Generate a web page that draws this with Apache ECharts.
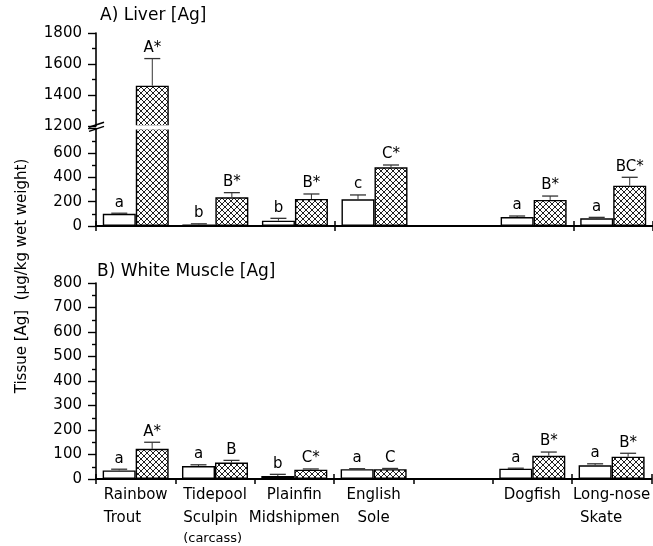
<!DOCTYPE html>
<html>
<head>
<meta charset="utf-8">
<script src="https://cdn.jsdelivr.net/npm/echarts@6/dist/echarts.min.js"></script>
<style>
html,body{margin:0;padding:0;background:#fff;}
#chart{width:653px;height:546px;}
</style>
</head>
<body>
<div id="chart"></div>
<script>
// ---------------- data ----------------
const categories = ['Rainbow Trout', 'Tidepool Sculpin (carcass)', 'Plainfin Midshipmen', 'English Sole', '', 'Dogfish', 'Long-nose Skate'];
const tickLines = [['Rainbow', 'Trout'], ['Tidepool', 'Sculpin', '(carcass)'], ['Plainfin', 'Midshipmen'], ['English', 'Sole'], [], ['Dogfish'], ['Long-nose', 'Skate']];

// A) Liver [Ag]  (white = control, hatched = exposed)
const liverWhite   = [100, 12, 44, 219, null, 74, 63];
const liverWhiteSE = [5, 6, 19, 36, null, 8, 8];
const liverHatch   = [1460, 236, 222, 482, null, 214, 331];
const liverHatchSE = [175, 38, 41, 19, null, 32, 69];
const liverWhiteLbl = ['a', 'b', 'b', 'c', '', 'a', 'a'];
const liverHatchLbl = ['A*', 'B*', 'B*', 'C*', '', 'B*', 'BC*'];

// B) White Muscle [Ag]
const muscleWhite   = [35, 53, 12, 40, null, 42, 56];
const muscleWhiteSE = [5, 5, 7, 2, null, 2, 6];
const muscleHatch   = [123, 67, 38, 40, null, 95, 91];
const muscleHatchSE = [27, 9, 3, 3, null, 15, 14];
const muscleWhiteLbl = ['a', 'a', 'b', 'a', '', 'a', 'a'];
const muscleHatchLbl = ['A*', 'B', 'C*', 'C', '', 'B*', 'B*'];

const liverUpperTicks = [1200, 1400, 1600, 1800];
const liverLowerTicks = [0, 200, 400, 600];
const muscleTicks = [0, 100, 200, 300, 400, 500, 600, 700, 800];

// ---------------- styles ----------------
const FONT = 'DejaVu Sans';
const BAR_W = 33;
// line alignment of the category tick labels (style only)
const lineStyleKeys = [['c', 'l'], ['c', 'l', 's'], ['c', 'c'], ['c', 'c'], [], ['c'], ['c', 'l2']];

function makeHatch() {
  const s = 6;
  const cv = document.createElement('canvas');
  cv.width = s; cv.height = s;
  const ctx = cv.getContext('2d');
  ctx.fillStyle = '#fff';
  ctx.fillRect(0, 0, s, s);
  ctx.strokeStyle = '#222';
  ctx.lineWidth = 1;
  ctx.beginPath();
  for (const o of [-s, 0, s]) {
    ctx.moveTo(o, 0); ctx.lineTo(o + s, s);
    ctx.moveTo(o, s); ctx.lineTo(o + s, 0);
  }
  ctx.stroke();
  return cv;
}
const hatch = { image: makeHatch(), repeat: 'repeat' };

const whiteStyle = { color: '#fff', borderColor: '#000', borderWidth: 1.4 };
const hatchStyle = { color: hatch, borderColor: '#000', borderWidth: 1.4 };

function yAxisBase(gridIndex, min, max, interval, ticks) {
  return {
    type: 'value', gridIndex, min, max, interval,
    axisLine: { show: true, lineStyle: { color: '#000', width: 1.6 } },
    axisTick: { show: true, length: 8, lineStyle: { color: '#000', width: 1.4 } },
    minorTick: { show: true, splitNumber: 2, length: 4, lineStyle: { color: '#000', width: 1.4 } },
    splitLine: { show: false },
    axisLabel: {
      margin: 14, color: '#000', fontFamily: FONT, fontSize: 15,
      formatter: v => (ticks.indexOf(v) >= 0 ? String(v) : '')
    }
  };
}

function xAxisBase(gridIndex, opts) {
  return Object.assign({
    type: 'category', gridIndex, data: categories, position: 'bottom',
    axisLine: { show: true, lineStyle: { color: '#000', width: 2 } },
    axisTick: { show: true, length: 5, lineStyle: { color: '#000', width: 1.5 } },
    axisLabel: { show: false },
    splitLine: { show: false }
  }, opts);
}

function tickFormatter(value, idx) {
  const lines = tickLines[idx] || [];
  return lines.map((t, i) => '{' + lineStyleKeys[idx][i] + '|' + t + '}').join('\n');
}

function errItems(means, ses, side, keep) {
  const out = [];
  means.forEach((m, i) => {
    if (m == null) return;
    const top = m + ses[i];
    if (!keep(m, top)) return;
    out.push([i, m, top, side]);
  });
  return out;
}

function errSeries(xi, yi, whiteM, whiteSE, whiteL, hatchM, hatchSE, hatchL, keep) {
  const items = errItems(whiteM, whiteSE, 0, keep).concat(errItems(hatchM, hatchSE, 1, keep));
  return {
    type: 'custom', xAxisIndex: xi, yAxisIndex: yi, z: 5, silent: true,
    data: items,
    renderItem: function (params, api) {
      const cat = api.value(0), mean = api.value(1), top = api.value(2), side = api.value(3);
      const c = api.coord([cat, mean]);
      const t = api.coord([cat, top]);
      const x = c[0] + (side ? 1 : -1) * BAR_W / 2;
      const lbl = side ? hatchL[cat] : whiteL[cat];
      return {
        type: 'group',
        children: [
          { type: 'line', shape: { x1: x, y1: c[1], x2: x, y2: t[1] }, style: { stroke: '#333', lineWidth: 1 } },
          { type: 'line', shape: { x1: x - 8, y1: t[1], x2: x + 8, y2: t[1] }, style: { stroke: '#333', lineWidth: 1.3 } },
          { type: 'text', x: x, y: t[1] - 3, style: { text: lbl, textAlign: 'center', textVerticalAlign: 'bottom', verticalAlign: 'bottom', font: '15px "' + FONT + '"', fill: '#000' } }
        ]
      };
    }
  };
}

const G_LEFT = 96, G_W = 560;
const grids = [
  { left: G_LEFT, top: 33, width: G_W, height: 93 },       // A upper (1200-1800)
  { left: G_LEFT, top: 128.6, width: G_W, height: 97.4 },  // A lower (0-800)
  { left: G_LEFT, top: 283, width: G_W, height: 196 }      // B
];

const richStyles = {
  c: { fontFamily: FONT, fontSize: 15, color: '#000', lineHeight: 23, align: 'center' },
  l: { fontFamily: FONT, fontSize: 15, color: '#000', lineHeight: 23, align: 'left' },
  l2: { fontFamily: FONT, fontSize: 15, color: '#000', lineHeight: 23, align: 'left', padding: [0, 0, 0, 7] },
  s: { fontFamily: FONT, fontSize: 13, color: '#000', lineHeight: 17, align: 'left' }
};

const option = {
  animation: false,
  backgroundColor: '#fff',
  grid: grids,
  xAxis: [
    xAxisBase(0, { show: false }),
    xAxisBase(1, {}),
    xAxisBase(1, { axisLine: { show: false }, axisTick: { show: true, inside: true, length: 5, lineStyle: { color: '#000', width: 1.5 } } }),
    xAxisBase(2, { axisLabel: { show: true, interval: 0, margin: 5, formatter: tickFormatter, rich: richStyles, color: '#000' } }),
    xAxisBase(2, { axisLine: { show: false }, axisTick: { show: true, inside: true, length: 5, lineStyle: { color: '#000', width: 1.5 } } })
  ],
  yAxis: [
    yAxisBase(0, 1200, 1800, 200, liverUpperTicks),
    yAxisBase(1, 0, 800, 200, liverLowerTicks),
    yAxisBase(2, 0, 800, 100, muscleTicks)
  ],
  series: [
    // A upper
    { type: 'bar', xAxisIndex: 0, yAxisIndex: 0, barWidth: BAR_W, barGap: '0%', clip: true,
      data: liverWhite.map(v => (v != null && v >= 1200 ? v : null)), itemStyle: whiteStyle },
    { type: 'bar', xAxisIndex: 0, yAxisIndex: 0, barWidth: BAR_W, barGap: '0%', clip: true,
      data: liverHatch.map(v => (v != null && v >= 1200 ? v : null)), itemStyle: hatchStyle },
    // A lower
    { type: 'bar', xAxisIndex: 1, yAxisIndex: 1, barWidth: BAR_W, barGap: '0%', clip: true,
      data: liverWhite, itemStyle: whiteStyle },
    { type: 'bar', xAxisIndex: 1, yAxisIndex: 1, barWidth: BAR_W, barGap: '0%', clip: true,
      data: liverHatch, itemStyle: hatchStyle },
    errSeries(0, 0, liverWhite, liverWhiteSE, liverWhiteLbl, liverHatch, liverHatchSE, liverHatchLbl, (m, t) => m >= 1200),
    errSeries(1, 1, liverWhite, liverWhiteSE, liverWhiteLbl, liverHatch, liverHatchSE, liverHatchLbl, (m, t) => t <= 800),
    // B
    { type: 'bar', xAxisIndex: 3, yAxisIndex: 2, barWidth: BAR_W, barGap: '0%',
      data: muscleWhite, itemStyle: whiteStyle },
    { type: 'bar', xAxisIndex: 3, yAxisIndex: 2, barWidth: BAR_W, barGap: '0%',
      data: muscleHatch, itemStyle: hatchStyle },
    errSeries(3, 2, muscleWhite, muscleWhiteSE, muscleWhiteLbl, muscleHatch, muscleHatchSE, muscleHatchLbl, () => true)
  ]
};

const chart = echarts.init(document.getElementById('chart'), null, { renderer: 'canvas' });
chart.setOption(option);

// decorations: axis break gap + marker, titles, y-axis name
const gUp = grids[0], gLo = grids[1];
const gapTop = gUp.top + gUp.height - 0.8;
const gapBot = gLo.top + 0.8;
const ax = G_LEFT;
chart.setOption({
  graphic: [
    { type: 'rect', z: 100, shape: { x: ax + 1.5, y: gapTop, width: G_W, height: gapBot - gapTop }, style: { fill: '#fff' } },
    { type: 'line', z: 101, shape: { x1: ax - 7, y1: gapTop + 2, x2: ax + 8, y2: gapTop - 3 }, style: { stroke: '#000', lineWidth: 1.5 } },
    { type: 'line', z: 101, shape: { x1: ax - 7, y1: gapBot + 2, x2: ax + 8, y2: gapBot - 3 }, style: { stroke: '#000', lineWidth: 1.5 } },
    { type: 'text', z: 101, x: 100, y: 15.5, style: { text: 'A) Liver [Ag]', font: '17px "' + FONT + '"', fill: '#000', textAlign: 'left', textVerticalAlign: 'middle', verticalAlign: 'middle' } },
    { type: 'text', z: 101, x: 97, y: 272, style: { text: 'B) White Muscle [Ag]', font: '17px "' + FONT + '"', fill: '#000', textAlign: 'left', textVerticalAlign: 'middle', verticalAlign: 'middle' } },
    { type: 'text', z: 101, x: 22, y: 276, rotation: Math.PI / 2, style: { text: 'Tissue [Ag]  (μg/kg wet weight)', font: '15px "' + FONT + '"', fill: '#000', textAlign: 'center', textVerticalAlign: 'middle', verticalAlign: 'middle' } }
  ]
});
</script>
</body>
</html>
